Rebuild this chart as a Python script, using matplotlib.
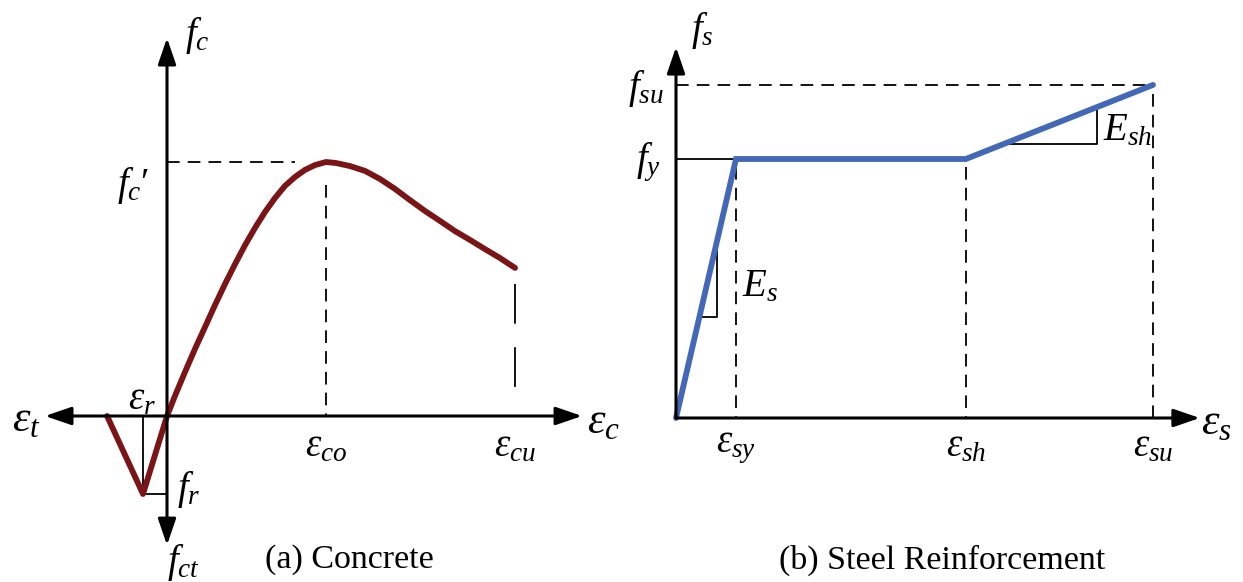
import matplotlib
matplotlib.use("Agg")
import matplotlib.pyplot as plt

plt.rcParams['font.family'] = ['Liberation Serif', 'DejaVu Serif']
plt.rcParams['mathtext.fontset'] = 'custom'
plt.rcParams['mathtext.rm'] = 'Liberation Serif'
plt.rcParams['mathtext.it'] = 'Liberation Serif:italic'

# ---- (a) Concrete: strain / eps_co, stress / fc' (schematic)
conc_strain = [-0.377, -0.151, 0.0, 0.050, 0.113, 0.176, 0.239, 0.302, 0.365,
               0.428, 0.491, 0.553, 0.616, 0.679, 0.742, 0.805, 0.868, 0.931,
               1.0, 1.063, 1.151, 1.245, 1.340, 1.434, 1.528, 1.623, 1.717,
               1.811, 1.906, 2.0, 2.094, 2.189]
conc_stress = [0.0, -0.307, 0.0, 0.079, 0.173, 0.264, 0.350, 0.437, 0.520,
               0.598, 0.673, 0.740, 0.803, 0.858, 0.906, 0.941, 0.969, 0.988,
               1.0, 0.996, 0.984, 0.965, 0.933, 0.894, 0.850, 0.807, 0.768,
               0.728, 0.693, 0.657, 0.622, 0.583]
eps_r, f_r = -0.151, -0.307
eps_co, fc_peak = 1.0, 1.0
eps_cu, fc_u = 2.189, 0.583

# ---- (b) Steel: strain / eps_sy, stress / f_y
steel_strain = [0.0, 1.0, 4.83, 7.95]
steel_stress = [0.0, 1.0, 1.0, 1.286]
eps_sy, eps_sh, eps_su = 1.0, 4.83, 7.95
f_y, f_su = 1.0, 1.286

W, H = 1243, 582
fig = plt.figure(figsize=(W / 100, H / 100), dpi=100)

# both panels span the whole figure, limits chosen so each origin lands in place
ax_c = fig.add_axes([0, 0, 1, 1])
ax_c.set_xlim(-167 / 159, (W - 167) / 159)
ax_c.set_ylim((416 - H) / 254, 416 / 254)
ax_s = fig.add_axes([0, 0, 1, 1])
ax_s.set_xlim(-676 / 60, (W - 676) / 60)
ax_s.set_ylim((418 - H) / 259, 418 / 259)
for ax in (ax_c, ax_s):
    ax.axis('off')
    ax.patch.set_alpha(0)

arrow = dict(arrowstyle='<|-|>,head_length=1.6,head_width=0.55', mutation_scale=10,
             lw=2.2, color='black', shrinkA=0, shrinkB=0)
arrow1 = dict(arrow, arrowstyle='-|>,head_length=1.6,head_width=0.55')

dash = dict(color='black', lw=1.3, linestyle=(0, (7, 4.5)))
thin = dict(color='black', lw=1.3)
mfs = 28   # math labels
efs = 32   # axis epsilon labels

# ---------------- Concrete ----------------
ax_c.annotate('', xy=(2.61, 0), xytext=(-0.767, 0), arrowprops=arrow)
ax_c.annotate('', xy=(0, 1.488), xytext=(0, -0.508), arrowprops=arrow)

ax_c.plot([0, 0.805], [fc_peak, fc_peak], **dash)
ax_c.plot([eps_co, eps_co], [0.91, 0], **dash)
ax_c.plot([eps_cu, eps_cu], [0.52, 0.035], color='black', lw=1.3, linestyle=(0, (22, 13)))
ax_c.plot([eps_r, eps_r], [0, f_r], **thin)
ax_c.plot([eps_r, 0], [f_r, f_r], **thin)

ax_c.plot(conc_strain, conc_stress, color='#7b1416', lw=4.2,
          solid_capstyle='round', solid_joinstyle='round')

ax_c.text(0.115, 1.50, r'$f_c$', fontsize=mfs, ha='left', va='center')
ax_c.text(-0.11, 0.906, r"$f_c\prime$", fontsize=mfs, ha='right', va='center')
ax_c.text(-0.887, -0.016, r'$\varepsilon_t$', fontsize=efs, ha='center', va='center')
ax_c.text(-0.157, 0.063, r'$\varepsilon_r$', fontsize=mfs, ha='center', va='center')
ax_c.text(0.063, -0.29, r'$f_r$', fontsize=mfs, ha='left', va='center')
ax_c.text(0.0, -0.575, r'$f_{ct}$', fontsize=mfs, ha='left', va='center')
ax_c.text(eps_co, -0.122, r'$\varepsilon_{co}$', fontsize=mfs, ha='center', va='center')
ax_c.text(eps_cu, -0.122, r'$\varepsilon_{cu}$', fontsize=mfs, ha='center', va='center')
ax_c.text(2.64, -0.024, r'$\varepsilon_c$', fontsize=efs, ha='left', va='center')
ax_c.text(1.145, -0.567, '(a) Concrete', fontsize=24.5, ha='center', va='center')

# ---------------- Steel ----------------
ax_s.annotate('', xy=(8.73, 0), xytext=(0, 0), arrowprops=arrow1)
ax_s.annotate('', xy=(0, 1.432), xytext=(0, 0), arrowprops=arrow1)

ax_s.plot([0, eps_su], [f_su, f_su], **dash)
ax_s.plot([eps_su, eps_su], [1.25, 0], **dash)
ax_s.plot([eps_sy, eps_sy], [0.97, 0], **dash)
ax_s.plot([eps_sh, eps_sh], [0.97, 0], **dash)
ax_s.plot([0, eps_sy], [f_y, f_y], **thin)

# slope triangles
ax_s.plot([0.39, 0.683, 0.683], [0.39, 0.39, 0.683], **thin)
ax_s.plot([5.43, 7.02, 7.02], [1.058, 1.058, 1.20], **thin)

ax_s.plot(steel_strain, steel_stress, color='#4468b8', lw=4.2,
          solid_capstyle='round', solid_joinstyle='miter')

ax_s.text(0.25, 1.498, r'$f_s$', fontsize=mfs, ha='left', va='center')
ax_s.text(-0.2, 1.274, r'$f_{su}$', fontsize=mfs, ha='right', va='center')
ax_s.text(-0.25, 0.988, r'$f_y$', fontsize=mfs, ha='right', va='center')
ax_s.text(1.1, 0.506, r'$E_s$', fontsize=mfs, ha='left', va='center')
ax_s.text(7.12, 1.108, r'$E_{sh}$', fontsize=mfs, ha='left', va='center')
ax_s.text(eps_sy, -0.112, r'$\varepsilon_{sy}$', fontsize=mfs, ha='center', va='center')
ax_s.text(eps_sh, -0.112, r'$\varepsilon_{sh}$', fontsize=mfs, ha='center', va='center')
ax_s.text(eps_su, -0.112, r'$\varepsilon_{su}$', fontsize=mfs, ha='center', va='center')
ax_s.text(8.75, -0.02, r'$\varepsilon_s$', fontsize=efs, ha='left', va='center')
ax_s.text(4.43, -0.548, '(b) Steel Reinforcement', fontsize=24.5, ha='center', va='center')

fig.savefig('out.png', dpi=100)
